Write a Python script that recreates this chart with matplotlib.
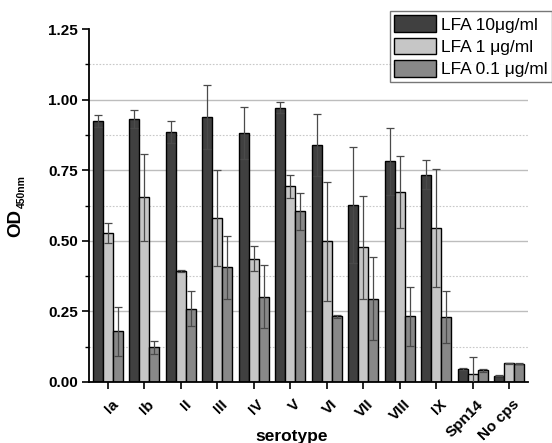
import numpy as np
import matplotlib
matplotlib.use("Agg")
import matplotlib.pyplot as plt
from matplotlib.transforms import ScaledTranslation

plt.rcParams['font.family'] = ['Liberation Sans', 'DejaVu Sans']

categories = ['Ia', 'Ib', 'II', 'III', 'IV', 'V', 'VI', 'VII', 'VIII', 'IX', 'Spn14', 'No cps']
series_names = ['LFA 10\u03bcg/ml', 'LFA 1 \u03bcg/ml', 'LFA 0.1 \u03bcg/ml']
lfa10 = [0.925, 0.930, 0.886, 0.939, 0.882, 0.971, 0.840, 0.627, 0.781, 0.734, 0.046, 0.022]
lfa10_err = [0.021, 0.032, 0.038, 0.113, 0.092, 0.020, 0.109, 0.206, 0.119, 0.052, 0.003, 0.002]
lfa1 = [0.527, 0.654, 0.394, 0.581, 0.437, 0.693, 0.498, 0.477, 0.673, 0.546, 0.028, 0.066]
lfa1_err = [0.035, 0.153, 0.004, 0.171, 0.043, 0.041, 0.210, 0.183, 0.127, 0.208, 0.060, 0.002]
lfa01 = [0.180, 0.123, 0.260, 0.406, 0.302, 0.604, 0.232, 0.295, 0.232, 0.229, 0.041, 0.064]
lfa01_err = [0.087, 0.023, 0.061, 0.112, 0.111, 0.067, 0.004, 0.146, 0.105, 0.092, 0.004, 0.002]

colors = ['#404040', '#c6c6c6', '#888888']

fig = plt.figure(figsize=(5.52, 4.43), dpi=100)
ax = fig.add_axes([0.161, 0.1377, 0.796, 0.7968])

x = np.arange(len(categories))
w = 0.274
for i, (vals, errs) in enumerate([(lfa10, lfa10_err), (lfa1, lfa1_err), (lfa01, lfa01_err)]):
    pos = x + (i - 1) * w
    ax.bar(pos, vals, width=w, color=colors[i], edgecolor='black', linewidth=1.0,
           label=series_names[i], zorder=2)
    ax.errorbar(pos, vals, yerr=errs, fmt='none', ecolor='#4a4a4a', elinewidth=0.9,
                capsize=3.0, capthick=0.9, zorder=3)

ax.set_xlim(-0.52, len(categories) - 0.48)
ax.set_ylim(0, 1.25)

# grid lines
for yv in [0.25, 0.5, 0.75, 1.0]:
    ax.axhline(yv, color='#bdbdbd', lw=1.0, zorder=0)
for yv in [0.125, 0.375, 0.625, 0.875, 1.125]:
    ax.axhline(yv, color='#c8c8c8', lw=0.8, ls=(0, (1.5, 1.5)), zorder=0)

ax.spines['top'].set_visible(False)
ax.spines['right'].set_visible(False)
ax.spines['left'].set_linewidth(1.3)
ax.spines['bottom'].set_linewidth(1.3)

ax.set_yticks([0, 0.25, 0.5, 0.75, 1.0, 1.25])
ax.set_yticklabels(['0.00', '0.25', '0.50', '0.75', '1.00', '1.25'])
ax.set_yticks([0.125, 0.375, 0.625, 0.875, 1.125], minor=True)
ax.tick_params(axis='y', which='major', direction='out', length=5, width=1.2, pad=3,
               labelsize=11)
ax.tick_params(axis='y', which='minor', direction='out', length=3, width=1.0)
for lab in ax.get_yticklabels():
    lab.set_fontweight('bold')

ax.set_xticks(x)
ax.set_xticklabels(categories)
ax.tick_params(axis='x', direction='out', length=5, width=1.2, pad=6, labelsize=11)
offset = ScaledTranslation(3 / 100, 0, fig.dpi_scale_trans)
for lab in ax.get_xticklabels():
    lab.set_fontweight('bold')
    lab.set_rotation(45)
    lab.set_ha('right')
    lab.set_va('top')
    lab.set_rotation_mode('anchor')
    lab.set_transform(lab.get_transform() + offset)

# axis labels
fig.text(292 / 552, 1 - 441 / 443, 'serotype', ha='center', va='baseline',
         fontsize=12.5, fontweight='bold')
fig.text(16 / 552, 1 - 223 / 443, 'OD', rotation=90, ha='center', va='center',
         fontsize=13.5, fontweight='bold')
fig.text(21.5 / 552, 1 - 191.5 / 443, '450nm', rotation=90, ha='center', va='center',
         fontsize=7.5, fontweight='bold')

leg = ax.legend(loc='upper left', bbox_to_anchor=(390 / 552, 1 - 11 / 443),
                bbox_transform=fig.transFigure, fontsize=12.5, frameon=True,
                fancybox=False, borderpad=0.25, handlelength=2.4, handleheight=1.1,
                handletextpad=0.3, labelspacing=0.3, borderaxespad=0)
leg.get_frame().set_edgecolor('#555555')
leg.get_frame().set_linewidth(1.0)
leg.set_zorder(5)

fig.savefig('out.png', dpi=100)
